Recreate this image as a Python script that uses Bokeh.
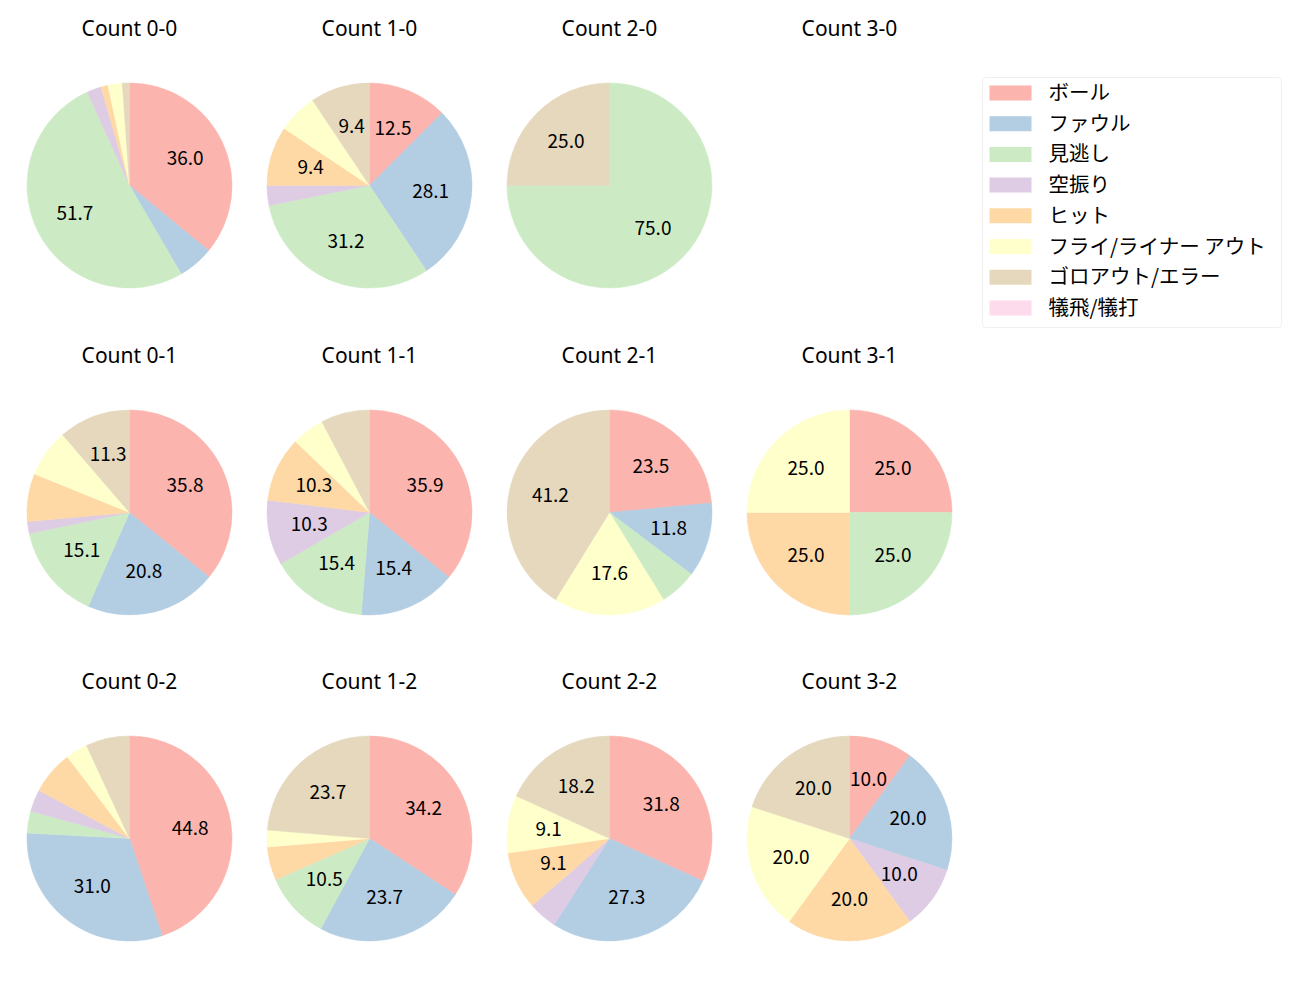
import numpy as np
from bokeh.plotting import figure
from bokeh.models import ColumnDataSource, Range1d, BoxAnnotation
from bokeh.core.properties import value
from bokeh.embed import file_html
from bokeh.resources import INLINE

# ---- data (pitch counts per ball-strike count) ----
panels = ["Count 0-0", "Count 1-0", "Count 2-0", "Count 3-0",
          "Count 0-1", "Count 1-1", "Count 2-1", "Count 3-1",
          "Count 0-2", "Count 1-2", "Count 2-2", "Count 3-2"]
categories = ["ボール", "ファウル", "見逃し", "空振り", "ヒット",
              "フライ/ライナー アウト", "ゴロアウト/エラー", "犠飛/犠打"]
colors = ["#fbb4ae", "#b3cde3", "#ccebc5", "#decbe4", "#fed9a6",
          "#ffffcc", "#e5d8bd", "#fddaec"]
ball      = [32, 4, 0, 0, 19, 14, 4, 1, 13, 13, 7, 1]
foul      = [5, 9, 0, 0, 11, 6, 2, 0, 9, 9, 6, 2]
looking   = [46, 10, 3, 0, 8, 6, 1, 1, 1, 4, 0, 0]
swinging  = [2, 1, 0, 0, 1, 4, 0, 0, 1, 0, 1, 1]
hit       = [1, 3, 0, 0, 4, 4, 0, 1, 2, 2, 2, 2]
fly_out   = [2, 2, 0, 0, 4, 2, 3, 1, 1, 1, 2, 2]
ground    = [1, 3, 1, 0, 6, 3, 7, 0, 2, 9, 4, 2]
sacrifice = [0, 0, 0, 0, 0, 0, 0, 0, 0, 0, 0, 0]
series = [ball, foul, looking, swinging, hit, fly_out, ground, sacrifice]

# ---- layout (page pixel coordinates, y flipped) ----
W, H = 1300, 1000
col_x = [129, 369, 609, 849]
row_y = [185, 512, 838]
R = 102.5
title_dy = 157
FONT = value("Noto Sans CJK JP")

p = figure(width=W - 16, height=H - 16, output_backend="svg", toolbar_location=None,
           x_range=Range1d(0, W - 16), y_range=Range1d(16, H),
           min_border=0, outline_line_color=None)
p.axis.visible = False
p.grid.visible = False

wx, wy, ws, we, wc = [], [], [], [], []
lx, ly, lt = [], [], []
tx, ty, tt = [], [], []
for i, name in enumerate(panels):
    cx = col_x[i % 4]
    cy = H - row_y[i // 4]
    tx.append(cx); ty.append(H - (row_y[i // 4] - title_dy) + 0.5); tt.append(name)
    vals = np.array([s[i] for s in series], dtype=float)
    total = vals.sum()
    if total <= 0:
        continue
    frac = vals / total
    cum = 0.0
    for k, f in enumerate(frac):
        if f <= 0:
            continue
        a0 = np.pi / 2 - 2 * np.pi * (cum + f)
        a1 = np.pi / 2 - 2 * np.pi * cum
        wx.append(cx); wy.append(cy); ws.append(a0); we.append(a1); wc.append(colors[k])
        if f * 100 >= 8:
            mid = (a0 + a1) / 2
            lx.append(cx + 0.6 * R * np.cos(mid))
            ly.append(cy + 0.6 * R * np.sin(mid) + 1)
            lt.append(f"{f * 100:.1f}")
        cum += f

p.wedge(x="x", y="y", radius=R, start_angle="s", end_angle="e", fill_color="c",
        line_color="c", line_width=0.5,
        source=ColumnDataSource(dict(x=wx, y=wy, s=ws, e=we, c=wc)))
p.text(x="x", y="y", text="t", source=ColumnDataSource(dict(x=lx, y=ly, t=lt)),
       text_font=FONT, text_font_size="19px", text_align="center",
       text_baseline="middle", text_color="#000000")
p.text(x="x", y="y", text="t", source=ColumnDataSource(dict(x=tx, y=ty, t=tt)),
       text_font=value("Noto Sans"), text_font_size="21px", text_align="center",
       text_baseline="middle", text_color="#000000")

# ---- legend ----
box = BoxAnnotation(left=982, right=1281, top=H - 77, bottom=H - 327,
                    fill_color="white", fill_alpha=1, line_color="#cccccc",
                    line_width=1, border_radius=4, level="underlay")
p.add_layout(box)
leg_y = [H - (92.5 + 30.7 * k) for k in range(len(categories))]
p.rect(x=[1010] * len(categories), y=leg_y, width=42, height=15,
       fill_color=colors, line_color=None)
p.text(x=[1048] * len(categories), y=[v + 2 for v in leg_y], text=categories,
       text_font=FONT, text_font_size="20.5px", text_align="left",
       text_baseline="middle", text_color="#000000")

open("out.html", "w").write(file_html(p, INLINE))
